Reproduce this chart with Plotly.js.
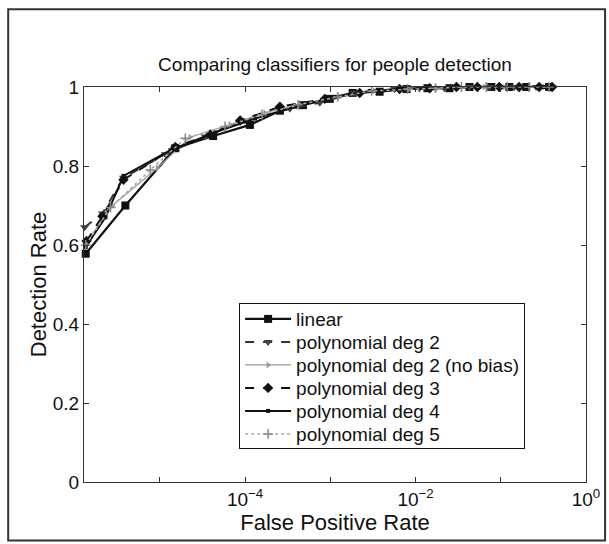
<!DOCTYPE html>
<html><head><meta charset="utf-8">
<script src="https://cdn.plot.ly/plotly-3.0.1.min.js"></script>
<style>html,body{margin:0;padding:0;background:#fff}#chart{width:609px;height:544px}</style>
</head><body><div id="chart"></div>
<script>
// Series names
const seriesNames = ["linear","polynomial deg 2","polynomial deg 2 (no bias)","polynomial deg 3","polynomial deg 4","polynomial deg 5"];

// False positive rates (x) and detection rates (y)
const linearFPR = [1.35e-6,3.94e-6,1.52e-5,4.22e-5,1.14e-4,2.56e-4,4.77e-4,9.86e-4,1.83e-3,3.79e-3,7.85e-3,0.0138,0.0250,0.0429,0.0775,0.126,0.199,0.369];
const linearDR  = [0.578,0.700,0.845,0.876,0.904,0.940,0.954,0.970,0.985,0.988,0.995,0.997,0.997,1,1,1,1,1];

const deg2FPR = [1.31e-6,2.12e-6,3.74e-6,1.16e-5,3.40e-5,1.0e-4,3.36e-4,7.53e-4,1.93e-3,5.68e-3,0.0111,0.0218,0.0429,0.0733,0.144,0.260,0.400];
const deg2DR  = [0.645,0.680,0.770,0.830,0.875,0.915,0.945,0.960,0.985,0.995,0.997,0.997,1,1,1,1,1];

const deg2nbFPR = [1.31e-6,2.78e-6,9.35e-6,2.27e-5,6.68e-5,1.71e-4,4.40e-4,1.29e-3,3.31e-3,8.51e-3,0.0181,0.0327,0.0641,0.110,0.164,0.323];
const deg2nbDR  = [0.600,0.700,0.795,0.873,0.905,0.935,0.955,0.975,0.990,0.995,0.997,1,1,1,1,1];

const deg3FPR = [1.38e-6,2.12e-6,3.74e-6,1.52e-5,3.90e-5,8.75e-5,2.56e-4,8.62e-4,2.21e-3,6.50e-3,0.0146,0.0302,0.0531,0.0960,0.164,0.282,0.400];
const deg3DR  = [0.610,0.673,0.765,0.848,0.880,0.915,0.950,0.970,0.985,0.995,0.997,1,1,1,1,1,1];

const deg4FPR = [1.35e-6,2.30e-6,3.74e-6,1.33e-5,4.46e-5,1.31e-4,3.85e-4,1.13e-3,2.90e-3,7.43e-3,0.0158,0.0286,0.0561,0.0960,0.188,0.323];
const deg4DR  = [0.595,0.670,0.775,0.840,0.885,0.920,0.950,0.975,0.990,0.995,0.997,1,1,1,1,1];

const deg5FPR = [1.35e-6,2.64e-6,7.74e-6,1.99e-5,5.83e-5,1.58e-4,4.17e-4,1.22e-3,3.06e-3,8.06e-3,0.0171,0.0345,0.0676,0.119,0.215,0.369];
const deg5DR  = [0.600,0.695,0.790,0.870,0.900,0.930,0.955,0.975,0.990,0.995,0.997,1,1,1,1,1];

// Axis ticks
const xTickVals = [1e-5,1e-4,1e-3,1e-2,1e-1,1];
const xTickText = ["","10<sup>\u22124</sup>","","10<sup>\u22122</sup>","","10<sup>0</sup>"];
const yTickVals = [0,0.2,0.4,0.6,0.8,1];
const yTickText = ["0","0.2","0.4","0.6","0.8","1"];

const traces = [
  {x: linearFPR, y: linearDR, name: seriesNames[0], mode: "lines+markers",
   line: {color: "#111", width: 2.2, dash: "solid"}, marker: {symbol: "square", size: 8, color: "#111"}},
  {x: deg2FPR, y: deg2DR, name: seriesNames[1], mode: "lines+markers",
   line: {color: "#333", width: 2, dash: "dash"}, marker: {symbol: "triangle-down", size: 8, color: "#444"}},
  {x: deg2nbFPR, y: deg2nbDR, name: seriesNames[2], mode: "lines+markers",
   line: {color: "#999", width: 1.2, dash: "solid"}, marker: {symbol: "triangle-right", size: 6, color: "#999"}},
  {x: deg3FPR, y: deg3DR, name: seriesNames[3], mode: "lines+markers",
   line: {color: "#111", width: 2, dash: "dash"}, marker: {symbol: "diamond", size: 8, color: "#111"}},
  {x: deg4FPR, y: deg4DR, name: seriesNames[4], mode: "lines+markers",
   line: {color: "#111", width: 2, dash: "solid"}, marker: {symbol: "square", size: 4, color: "#111"}},
  {x: deg5FPR, y: deg5DR, name: seriesNames[5], mode: "lines+markers",
   line: {color: "#aaa", width: 1.5, dash: "dot"}, marker: {symbol: "cross-thin", size: 7, color: "#888", line: {color: "#888", width: 1.5}}}
];
traces.forEach(t => t.cliponaxis = false);

const font = "'Liberation Sans', Arial, Helvetica, sans-serif";
const layout = {
  width: 609, height: 544,
  paper_bgcolor: "#fff", plot_bgcolor: "#fff",
  margin: {l: 84, r: 23, t: 87, b: 62, pad: 0},
  font: {family: font, size: 19, color: "#111"},
  title: {text: "Comparing classifiers for people detection", font: {size: 19, color: "#111"},
          x: 0.5, xref: "paper", xanchor: "center", y: 1, yref: "paper", yanchor: "bottom", pad: {b: 16}},
  showlegend: true,
  legend: {x: 0.309, y: 0.453, xanchor: "left", yanchor: "top", bgcolor: "#fff",
           bordercolor: "#111", borderwidth: 1, font: {size: 19, color: "#111"},
           itemwidth: 46, tracegroupgap: 0},
  xaxis: {type: "log", range: [-5.89, 0], tickmode: "array", tickvals: xTickVals, ticktext: xTickText,
          ticks: "inside", ticklen: 5, tickcolor: "#333", showline: true, linecolor: "#333", linewidth: 1,
          mirror: "allticks", showgrid: false, zeroline: false, tickfont: {size: 19},
          title: {text: "False Positive Rate", font: {size: 22}, standoff: 3}},
  yaxis: {range: [0, 1], tickmode: "array", tickvals: yTickVals, ticktext: yTickText,
          ticks: "inside", ticklen: 5, tickcolor: "#333", showline: true, linecolor: "#333", linewidth: 1,
          mirror: "allticks", showgrid: false, zeroline: false, tickfont: {size: 19},
          title: {text: "Detection Rate", font: {size: 22}, standoff: 0}},
  shapes: [{type: "rect", xref: "paper", yref: "paper", x0: -0.151, x1: 1.038, y0: -0.148, y1: 1.197,
            line: {color: "#333", width: 2}, fillcolor: "rgba(0,0,0,0)", layer: "below"}]
};
Plotly.newPlot("chart", traces, layout, {displayModeBar: false, staticPlot: true}).then(function () {
  // tighten legend row spacing to match the reference (about 23 px per row)
  try {
    const items = Array.from(document.querySelectorAll(".legend .traces"));
    if (items.length < 2) return;
    const getXY = el => {
      const m = /translate\(\s*([-\d.]+)[ ,]+([-\d.]+)\s*\)/.exec(el.getAttribute("transform") || "");
      return m ? [parseFloat(m[1]), parseFloat(m[2])] : null;
    };
    const p0 = getXY(items[0]), p1 = getXY(items[1]);
    if (!p0 || !p1) return;
    const oldStep = p1[1] - p0[1], newStep = 23, shift = -4;
    items.forEach((el, i) => {
      const p = getXY(el);
      el.setAttribute("transform", "translate(" + p[0] + "," + (p0[1] + shift + i * newStep) + ")");
    });
    const shrink = (items.length - 1) * (oldStep - newStep) + 10;
    document.querySelectorAll(".legend rect.bg").forEach(r => {
      const h = parseFloat(r.getAttribute("height"));
      r.setAttribute("height", h - shrink);
    });
  } catch (e) {}
});
</script></body></html>
